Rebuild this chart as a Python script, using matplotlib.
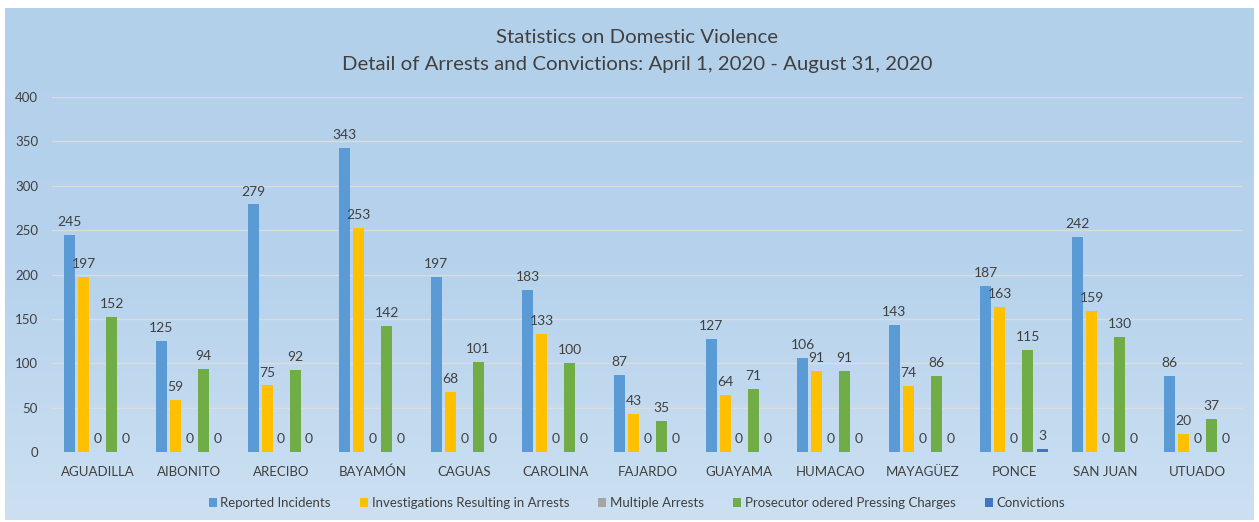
import numpy as np
import matplotlib
matplotlib.use('Agg')
import matplotlib.pyplot as plt
from matplotlib.colors import LinearSegmentedColormap

plt.rcParams['font.family'] = ['Lato', 'DejaVu Sans']

# data
regions = ['AGUADILLA', 'AIBONITO', 'ARECIBO', 'BAYAMÓN', 'CAGUAS', 'CAROLINA', 'FAJARDO',
           'GUAYAMA', 'HUMACAO', 'MAYAGÜEZ', 'PONCE', 'SAN JUAN', 'UTUADO']
reported = [245, 125, 279, 343, 197, 183, 87, 127, 106, 143, 187, 242, 86]
arrests = [197, 59, 75, 253, 68, 133, 43, 64, 91, 74, 163, 159, 20]
multiple = [0, 0, 0, 0, 0, 0, 0, 0, 0, 0, 0, 0, 0]
charges = [152, 94, 92, 142, 101, 100, 35, 71, 91, 86, 115, 130, 37]
convictions = [0, 0, 0, 0, 0, 0, 0, 0, 0, 0, 3, 0, 0]

seriesNames = ['Reported Incidents', 'Investigations Resulting in Arrests', 'Multiple Arrests',
               'Prosecutor odered Pressing Charges', 'Convictions']
seriesColors = ['#5B9BD5', '#FFC000', '#A5A5A5', '#70AD47', '#4472C4']
allSeries = [reported, arrests, multiple, charges, convictions]

textColor = '#404040'

fig = plt.figure(figsize=(12.59, 5.22), dpi=100)
fig.patch.set_facecolor('white')

# gradient background of the chart area
bg = fig.add_axes([0.004, 0.004, 0.992, 0.981], zorder=0)
grad = np.linspace(0, 1, 256).reshape(-1, 1)
cmap = LinearSegmentedColormap.from_list('bg', ['#B3D0EA', '#B6D2EC', '#CCE0F2'])
bg.imshow(grad, aspect='auto', cmap=cmap, extent=[0, 1, 0, 1], origin='upper')
bg.set_axis_off()

ax = fig.add_axes([0.0413, 0.134, 0.946, 0.680], zorder=1)
ax.patch.set_alpha(0)

x = np.arange(len(regions))
slot = 0.153
width = 0.12
for i, (vals, name, col) in enumerate(zip(allSeries, seriesNames, seriesColors)):
    pos = x + (i - 2) * slot
    bars = ax.bar(pos, vals, width, color=col, label=name, zorder=3)
    for b, v in zip(bars, vals):
        ax.annotate(str(v), (b.get_x() + b.get_width() / 2, v), xytext=(0, 5),
                    textcoords='offset points', ha='center', va='bottom',
                    fontsize=10, color=textColor, zorder=4)

ax.set_xlim(-0.5, len(regions) - 0.5)
ax.set_ylim(0, 400)
ax.set_yticks(range(0, 401, 50))
ax.set_xticks(x)
ax.set_xticklabels(regions)
ax.tick_params(axis='both', length=0, labelsize=9.5, labelcolor=textColor)
ax.tick_params(axis='x', pad=10)
ax.tick_params(axis='y', pad=10)
ax.grid(axis='y', color='#DCDDDA', linewidth=1, zorder=0)
for s in ax.spines.values():
    s.set_visible(False)
ax.axhline(0, color='#D6D6D2', linewidth=1, zorder=2)

fig.text(0.506, 0.929, 'Statistics on Domestic Violence', ha='center', va='center',
         fontsize=14.7, color=textColor)
fig.text(0.506, 0.877, 'Detail of Arrests and Convictions: April 1, 2020 - August 31, 2020',
         ha='center', va='center', fontsize=14.7, color=textColor)

leg = fig.legend(loc='center', bbox_to_anchor=(0.506, 0.036), ncol=5, frameon=False,
                 fontsize=9.5, handlelength=0.6, handleheight=0.6, handletextpad=0.3,
                 columnspacing=2.2)
for t in leg.get_texts():
    t.set_color(textColor)

fig.savefig('out.png', dpi=100)
